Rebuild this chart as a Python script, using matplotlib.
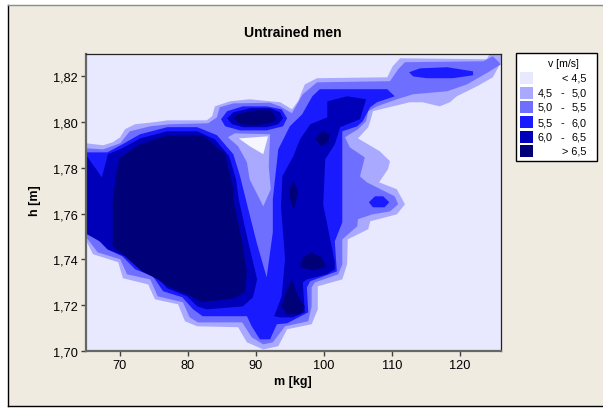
"""Filled contour map of v [m/s] over body mass and height, untrained men."""

import matplotlib

matplotlib.use("Agg")  # headless: save to file
import matplotlib.pyplot as plt
from matplotlib.patches import Rectangle

plt.rcParams["font.family"] = ["Liberation Sans", "DejaVu Sans"]

W, H = 603, 410

X_TICKS = [70, 80, 90, 100, 110, 120]
Y_TICKS = [1.70, 1.72, 1.74, 1.76, 1.78, 1.80, 1.82]
Y_TICK_LABELS = ["1,70", "1,72", "1,74", "1,76", "1,78", "1,80", "1,82"]

LEGEND_LABELS = [
    ("", "< 4,5"),
    ("4,5", "5,0"),
    ("5,0", "5,5"),
    ("5,5", "6,0"),
    ("6,0", "6,5"),
    ("", "> 6,5"),
]
COLORS = ["#E8E8FF", "#A9A9FF", "#6F6FFF", "#1A1AFF", "#0000B8", "#000078"]

# contour outlines, (m, h)
band1_outer = [
    (65, 1.7908), (67.6, 1.7899), (69.0, 1.7912), (70.1, 1.7934), (70.8, 1.7969),
    (72.3, 1.7991), (74.9, 1.7999), (77.1, 1.8008), (82.8, 1.8008), (83.6, 1.8026),
    (84.0, 1.8069), (86.2, 1.8091), (89.1, 1.8100), (93.6, 1.8087), (95.3, 1.8056),
    (96.2, 1.8091), (97.2, 1.8165), (99.0, 1.8192), (109.3, 1.8196), (110.1, 1.8244),
    (111.2, 1.8279), (123.9, 1.8275), (124.4, 1.83), (126, 1.83), (126, 1.8262),
    (124.8, 1.8196), (122.5, 1.8157), (119.5, 1.8113), (118.5, 1.8087), (117.0, 1.8069),
    (114.5, 1.8087), (112.6, 1.8087), (107.2, 1.8048), (106.8, 1.8004), (106.5, 1.7978),
    (105.0, 1.7929), (108.2, 1.7873), (109.7, 1.7829), (109.4, 1.7794), (108.1, 1.7737),
    (110.7, 1.7707), (111.9, 1.7641), (110.7, 1.7597), (106.8, 1.7567), (106.5, 1.7532),
    (103.5, 1.7488), (103.4, 1.7379), (102.7, 1.7313), (99.1, 1.7283), (99.1, 1.7182),
    (98.2, 1.7117), (94.6, 1.7095), (93.3, 1.7021), (91.1, 1.7007), (88.7, 1.7038),
    (87.4, 1.7104), (81.4, 1.7108), (79.6, 1.7130), (78.6, 1.7204), (75.2, 1.7226),
    (74.2, 1.7291), (70.5, 1.7318), (69.8, 1.7388), (66.1, 1.7423), (65, 1.7488),
]
band2_outer = [
    (65, 1.7886), (67.6, 1.7881), (70.1, 1.7908), (71.5, 1.7960), (74.5, 1.7982),
    (77.4, 1.7991), (83.0, 1.7995), (84.3, 1.8021), (84.7, 1.8065), (86.7, 1.8082),
    (92.1, 1.8085), (93.6, 1.8069), (95.3, 1.8039), (96.9, 1.8122), (99, 1.8174),
    (109.7, 1.8179), (110.9, 1.8231), (111.9, 1.8262), (123.4, 1.8266), (124.8, 1.8288),
    (126, 1.8253), (124.1, 1.8218), (121.0, 1.8165), (118.1, 1.8135), (113.1, 1.8122),
    (110.7, 1.8100), (107.8, 1.8069), (106.5, 1.8048), (106.2, 1.8004), (105, 1.7969),
    (103.1, 1.7934), (103.8, 1.7890), (106.0, 1.7846), (105.3, 1.7763), (106.3, 1.7737),
    (110.4, 1.7676), (110.9, 1.7641), (109.7, 1.7610), (107.1, 1.7597), (105.0, 1.7576),
    (104.9, 1.7545), (102.7, 1.7488), (102.7, 1.7379), (102.1, 1.7335), (98.7, 1.7300),
    (98.2, 1.7278), (98.2, 1.7195), (97.7, 1.7130), (94.3, 1.7108), (92.5, 1.7038),
    (91.1, 1.7029), (89.4, 1.7060), (88.0, 1.7125), (81.5, 1.7125), (80.3, 1.7147),
    (79.3, 1.7213), (75.6, 1.7239), (74.5, 1.7313), (71.1, 1.7335), (70.1, 1.7401),
    (66.8, 1.7431), (65, 1.7501),
]
band1_wedge = [
    (85.9, 1.7934), (86.9, 1.7951), (92.1, 1.7947), (91.9, 1.7807), (92.2, 1.7707),
    (91.1, 1.7632), (89.1, 1.7750), (88.7, 1.7825), (87.4, 1.7895),
]
low_hole = [(87.5, 1.7929), (91.8, 1.7938), (91.1, 1.7860), (89.1, 1.7895)]
band3_main = [
    (65, 1.7868), (68.2, 1.7868), (70.4, 1.7903), (73.0, 1.7947), (77.0, 1.7978),
    (81.4, 1.7978), (84.3, 1.7943), (86.7, 1.7860), (87.7, 1.7763), (88.9, 1.7619),
    (90.2, 1.7466), (91.6, 1.7322), (92.5, 1.7519), (92.5, 1.7663), (93.3, 1.7881),
    (95.0, 1.7982), (96.8, 1.8034), (98.3, 1.8113), (99.4, 1.8144), (109.3, 1.8144),
    (110.4, 1.8113), (107.8, 1.8087), (106.8, 1.8065), (105.7, 1.8004), (104.9, 1.7982),
    (102.7, 1.7960), (102.7, 1.7663), (102.7, 1.7562), (101.6, 1.7479), (101.9, 1.7348),
    (98.0, 1.7305), (97.5, 1.7278), (97.7, 1.7169), (94.6, 1.7121), (93.1, 1.7117),
    (92.1, 1.7051), (90.6, 1.7051), (89.4, 1.7108), (88.7, 1.7152), (82.2, 1.7152),
    (80.8, 1.7182), (79.2, 1.7235), (76.4, 1.7261), (74.9, 1.7326), (72.3, 1.7357),
    (70.4, 1.7414), (68.2, 1.7444), (66.4, 1.7501), (65, 1.7523),
]
band3_oval = [
    (84.9, 1.8013), (85.8, 1.8048), (88.1, 1.8069), (91.6, 1.8069), (93.8, 1.8056),
    (94.6, 1.8017), (94.0, 1.7982), (91.6, 1.7964), (87.7, 1.7964), (85.5, 1.7982),
]
band3_top = [
    (112.5, 1.8218), (114.1, 1.8235), (118.1, 1.8240), (121.9, 1.8222), (121.9, 1.8205),
    (118.9, 1.8192), (115.1, 1.8192), (113.1, 1.8200),
]
band3_dot = [
    (106.6, 1.7650), (107.5, 1.7676), (108.7, 1.7676), (109.6, 1.7650), (108.9, 1.7628),
    (107.2, 1.7628),
]
band4_left = [
    (65, 1.7860), (67.4, 1.7759), (68.3, 1.7860), (70.4, 1.7886), (73.0, 1.7929),
    (77, 1.7960), (81.4, 1.7960), (84.0, 1.7925), (86.1, 1.7851), (87.1, 1.7750),
    (87.5, 1.7663), (88.7, 1.7501), (90.2, 1.7313), (89.6, 1.7235), (88.1, 1.7195),
    (82.8, 1.7182), (81.4, 1.7195), (79.9, 1.7239), (77.0, 1.7274), (75.2, 1.7335),
    (73.3, 1.7357), (70.8, 1.7414), (68.3, 1.7444), (67.1, 1.7479), (65, 1.7514),
]
band4_right = [
    (92.7, 1.7152), (93.6, 1.7147), (95.5, 1.7147), (97.2, 1.7169), (96.9, 1.7300),
    (97.5, 1.7313), (100.4, 1.7335), (101.6, 1.7357), (101.6, 1.7388), (99.9, 1.7641),
    (100.2, 1.7838), (101.6, 1.7903), (102.4, 1.7978), (105.3, 1.8013), (106.2, 1.8100),
    (103.4, 1.8113), (100.5, 1.8091), (100.5, 1.8021), (98.0, 1.7991), (96.5, 1.7925),
    (95.5, 1.7851), (93.9, 1.7763), (93.7, 1.7632), (94.3, 1.7401), (93.8, 1.7239),
]
band4_oval = [
    (85.8, 1.8017), (86.7, 1.8043), (89.2, 1.8061), (92.1, 1.8061), (93.6, 1.8043),
    (94.0, 1.8017), (93.3, 1.7991), (91.6, 1.7978), (88.1, 1.7978), (86.5, 1.7991),
]
band5_left = [
    (70.1, 1.7846), (73.0, 1.7903), (77, 1.7943), (82.2, 1.7943), (85.5, 1.7860),
    (86.7, 1.7707), (86.7, 1.7663), (88.0, 1.7475), (88.7, 1.7344), (88.4, 1.7257),
    (86.7, 1.7230), (82.2, 1.7213), (79.9, 1.7248), (77, 1.7283), (75.6, 1.7313),
    (73.3, 1.7348), (70.8, 1.7414), (69.0, 1.7458), (69.0, 1.7663), (69.6, 1.7794),
]
band5_oval = [
    (86.7, 1.8017), (87.7, 1.8039), (90.2, 1.8052), (92.1, 1.8052), (93.1, 1.8021),
    (92.5, 1.7999), (90.2, 1.7986), (87.7, 1.7991),
]
band5_a = [
    (95.5, 1.7742), (96.1, 1.7707), (96.2, 1.7685), (95.6, 1.7619), (94.9, 1.7676),
    (95.0, 1.7715),
]
band5_b = [(99.7, 1.7960), (100.9, 1.7943), (100.6, 1.7912), (99.7, 1.7895), (98.7, 1.7925)]
band5_c = [
    (98.2, 1.7431), (99.7, 1.7409), (100.3, 1.7366), (98.4, 1.7353), (96.5, 1.7366),
    (96.9, 1.7409),
]
band5_d = [
    (95.3, 1.7313), (96.2, 1.7239), (97.2, 1.7191), (96.5, 1.7160), (94.6, 1.7160),
    (93.8, 1.7195), (94.6, 1.7270),
]

# painted back to front, each layer covers the ones below
LAYERS = [
    (band1_outer, COLORS[1]),
    (band2_outer, COLORS[2]),
    (band1_wedge, COLORS[1]),
    (low_hole, "#F6F6FF"),
    (band3_main, COLORS[3]),
    (band3_oval, COLORS[3]),
    (band3_top, COLORS[3]),
    (band3_dot, COLORS[3]),
    (band4_left, COLORS[4]),
    (band4_right, COLORS[4]),
    (band4_oval, COLORS[4]),
    (band5_left, COLORS[5]),
    (band5_oval, COLORS[5]),
    (band5_a, COLORS[5]),
    (band5_b, COLORS[5]),
    (band5_c, COLORS[5]),
    (band5_d, COLORS[5]),
]


def fx(px):
    return px / W


def fy(py):
    return 1 - py / H


fig = plt.figure(figsize=(W / 100, H / 100), dpi=100, facecolor="white")

# --- beige panel with its window edge -----------------------------------
fig.add_artist(Rectangle((fx(8), fy(407)), fx(595), 401 / H, transform=fig.transFigure,
                         facecolor="#EFEBE0", edgecolor="none", zorder=-2))
fig.add_artist(plt.Line2D([fx(8), fx(8)], [fy(6), fy(407)], color="black", lw=1, zorder=-1))
fig.add_artist(plt.Line2D([fx(8), fx(603)], [fy(407), fy(407)], color="black", lw=1, zorder=-1))
fig.add_artist(plt.Line2D([fx(8), fx(603)], [fy(6), fy(6)], color="#8C8C8C", lw=1, zorder=-1))

# --- contour panel ------------------------------------------------------
ax = fig.add_axes([fx(85.5), fy(352), fx(501 - 85.5), (352 - 54.5) / H])
ax.set_facecolor(COLORS[0])
for outline, color in LAYERS:
    ms, hs = zip(*outline)
    ax.fill(ms, hs, color=color, lw=0)

ax.set_xlim(65, 126)
ax.set_ylim(1.70, 1.83)
ax.set_xticks(X_TICKS)
ax.set_yticks(Y_TICKS)
ax.set_yticklabels(Y_TICK_LABELS)
ax.tick_params(labelsize=9.2, length=3.5, width=1, color="#404040", pad=2)
for side in ("left", "bottom"):
    ax.spines[side].set_linewidth(1.6)
    ax.spines[side].set_color("#666666")
for side in ("top", "right"):
    ax.spines[side].set_linewidth(0.9)
    ax.spines[side].set_color("#222222")

fig.text(fx(293), fy(33), "Untrained men", ha="center", va="center", fontsize=10, fontweight="bold")
fig.text(fx(293), fy(382), "m [kg]", ha="center", va="center", fontsize=9, fontweight="bold")
fig.text(fx(35), fy(201), "h [m]", ha="center", va="center", rotation=90, fontsize=9, fontweight="bold")

# --- legend box ---------------------------------------------------------
fig.add_artist(Rectangle((fx(515.5), fy(162)), fx(81), 108 / H, transform=fig.transFigure,
                         facecolor="white", edgecolor="black", lw=1))
fig.text(fx(563), fy(64), "v [m/s]", ha="center", va="center", fontsize=7.6)
swatch_top = [73, 87.5, 102, 117, 132, 146]
for top, color, (low, high) in zip(swatch_top, COLORS, LEGEND_LABELS):
    fig.add_artist(Rectangle((fx(520), fy(top + 12)), fx(13), 12 / H, transform=fig.transFigure,
                             facecolor=color, edgecolor="none"))
    row = fy(top + 6)
    fig.text(fx(587), row, high, ha="right", va="center", fontsize=7.8)
    if low:
        fig.text(fx(538), row, low, ha="left", va="center", fontsize=7.8)
        fig.text(fx(562), row, "-", ha="center", va="center", fontsize=7.8)

fig.savefig("out.png", dpi=100, facecolor=fig.get_facecolor())
plt.close(fig)
